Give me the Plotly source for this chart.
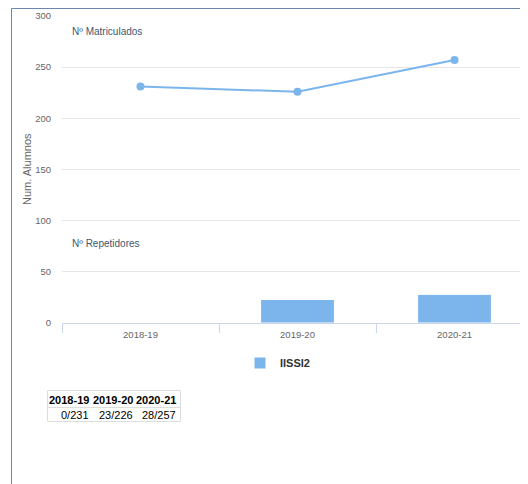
import plotly.graph_objects as go

W, H = 520, 476          # page body has an 8px margin
OFF = 8
cursos = ["2018-19", "2019-20", "2020-21"]
matriculados = [231, 226, 257]
repetidores = [0, 23, 28]
serie = "IISSI2"
y_ticks = [0, 50, 100, 150, 200, 250, 300]

def px(x):
    return (x - OFF) / W

def py(y):
    return 1 - (y - OFF) / H

fig = go.Figure()
fig.add_trace(go.Bar(
    x=cursos, y=repetidores, name=serie, width=0.47,
    marker=dict(color="#7cb5ec", line=dict(color="#ffffff", width=1)),
    showlegend=True,
))
fig.add_trace(go.Scatter(
    x=cursos, y=matriculados, mode="lines+markers", name=serie,
    line=dict(color="#7cb5ec", width=2),
    marker=dict(color="#7cb5ec", size=8),
    showlegend=False,
))

# data table (header: cursos, row: repetidores/matriculados)
col_right = [91, 134.5, 178]
annotations = []
for c, r, m, xr in zip(cursos, repetidores, matriculados, col_right):
    annotations.append(dict(text="<b>%s</b>" % c, x=px(xr), y=py(399.5), xref="paper", yref="paper",
                            xanchor="right", yanchor="middle", showarrow=False,
                            font=dict(family="Liberation Sans", size=11, color="#000000")))
    annotations.append(dict(text="%d/%d" % (r, m), x=px(xr), y=py(415), xref="paper", yref="paper",
                            xanchor="right", yanchor="middle", showarrow=False,
                            font=dict(family="Liberation Sans", size=11, color="#000000")))

annotations += [
    dict(text="Nº Matriculados", x=px(70), y=py(31), xref="paper", yref="paper",
         xanchor="left", yanchor="middle", showarrow=False,
         font=dict(family="Liberation Sans", size=10, color="#3e576f")),
    dict(text="Nº Repetidores", x=px(70), y=py(243), xref="paper", yref="paper",
         xanchor="left", yanchor="middle", showarrow=False,
         font=dict(family="Liberation Sans", size=10, color="#3e576f")),
    dict(text="Num. Alumnos", x=px(27), y=py(169), xref="paper", yref="paper",
         xanchor="center", yanchor="middle", showarrow=False, textangle=-90,
         font=dict(family="Liberation Sans", size=11, color="#666666")),
]

fig.update_layout(
    template="none",
    width=W, height=H,
    margin=dict(l=0, r=0, t=0, b=0, pad=0, autoexpand=False),
    paper_bgcolor="white", plot_bgcolor="white",
    font=dict(family="Liberation Sans", size=11, color="#666666"),
    xaxis=dict(domain=[px(62), 1], range=[-0.5, 2.468], type="category", automargin=False,
               showgrid=False, showline=True, linecolor="#ccd6eb", linewidth=1, zeroline=False,
               ticks="outside", tickson="boundaries", ticklen=9, tickcolor="#ccd6eb",
               ticklabelstandoff=3,
               tickfont=dict(size=9.5, color="#666666"), fixedrange=True),
    yaxis=dict(domain=[py(323), py(16)], range=[0, 300], tickvals=y_ticks, automargin=False,
               showgrid=True, gridcolor="#e6e6e6", gridwidth=1, zeroline=False,
               showline=False, ticks="", ticklabelstandoff=10,
               tickfont=dict(size=9.5, color="#666666"), fixedrange=True),
    legend=dict(x=px(240), y=py(363), xanchor="left", yanchor="middle",
                xref="paper", yref="paper", orientation="h",
                font=dict(family="Liberation Sans", size=11, color="#333333", weight="bold"),
                bgcolor="rgba(0,0,0,0)", borderwidth=0, itemwidth=30),
    annotations=annotations,
    shapes=[
        dict(type="rect", xref="paper", yref="paper",
             x0=px(11.5), x1=px(560), y0=py(8.5), y1=py(520),
             line=dict(color="#6a88ad", width=1)),
        dict(type="rect", xref="paper", yref="paper",
             x0=px(47.5), x1=px(180.5), y0=py(390.5), y1=py(421.5),
             line=dict(color="#dddddd", width=1)),
        dict(type="line", xref="paper", yref="paper",
             x0=px(47.5), x1=px(180.5), y0=py(407.5), y1=py(407.5),
             line=dict(color="#dddddd", width=1)),
    ],
)

fig.write_html("out.html")
